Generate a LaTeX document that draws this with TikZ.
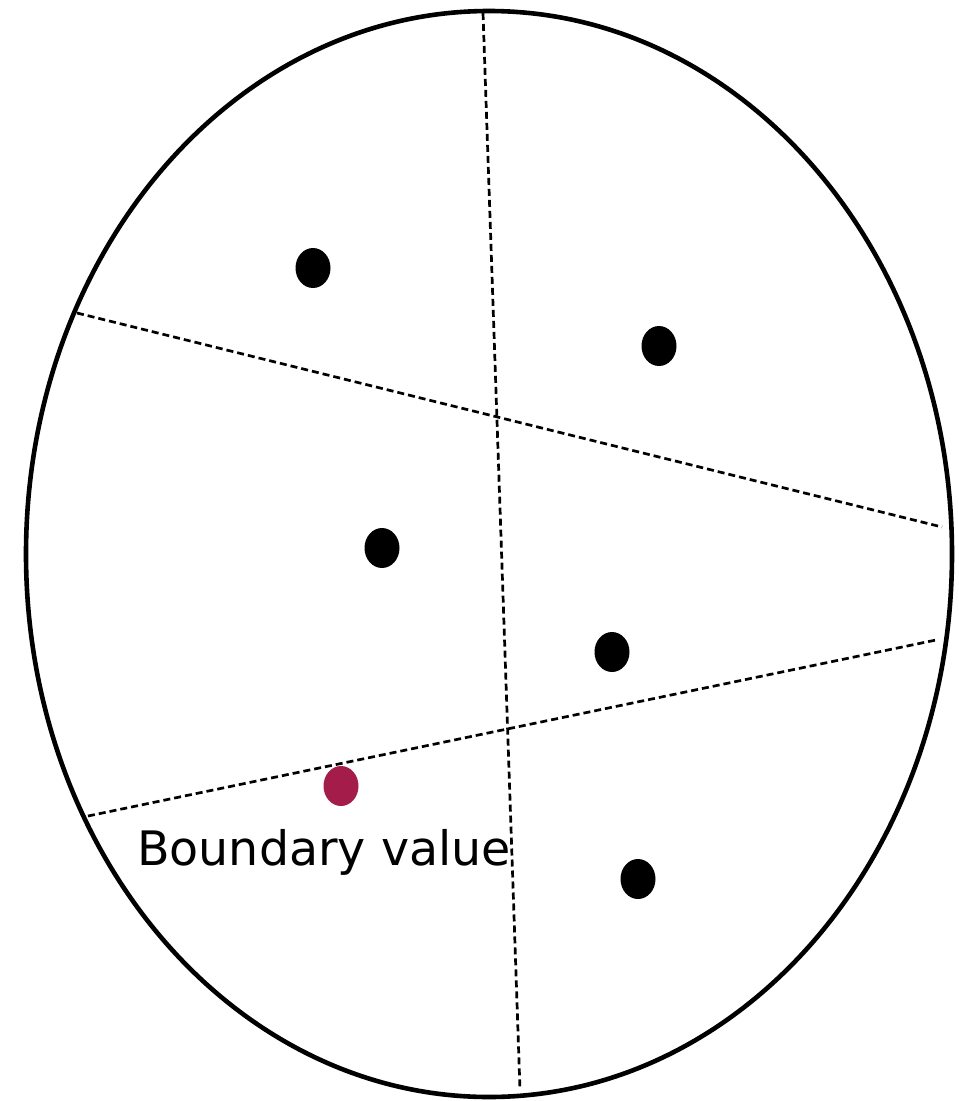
\documentclass[tikz,border=0pt]{standalone}
\usepackage{fontspec}
\setmainfont{DejaVu Sans}
\usetikzlibrary{positioning,calc,shapes.geometric}
\definecolor{BoundRed}{RGB}{164,29,74}
\tikzset{
	dot/.style={ellipse,draw=none,fill=black,minimum width=35pt,minimum height=40pt,inner sep=0pt},
	cut/.style={draw=black,line width=2.7pt,dash pattern=on 7pt off 4pt},
	rim/.style={draw=black,line width=4.6pt},
}
\begin{document}
\begin{tikzpicture}[x=1pt,y=-1pt]
			\useasboundingbox (0,0) rectangle (959,1101);
			\node[ellipse,rim,minimum width=926pt,minimum height=1086pt,inner sep=0pt] (rim) at (489,554) {};
			\coordinate (vt) at (483,13);
			\coordinate (vb) at (520,1090);
			\coordinate (ul) at (77,313);
			\coordinate (ur) at (942,527);
			\coordinate (ll) at (88,816);
			\coordinate (lr) at (936,640);
			\foreach \x/\y in {vt/vb,ul/ur,ll/lr}
			\draw[cut] (\x)--(\y);
			\foreach \n/\p in {p1/{313,268},p2/{659,346},p3/{382,548},p4/{612,652},p5/{638,879}}
			\node[dot] (\n) at (\p) {};
			\node[dot,fill=BoundRed] (bv) at (341,786) {};
			\node[font=\fontsize{47.5}{50}\selectfont,anchor=base west,inner sep=0pt] (bvlabel) at (137,865) {Boundary value};
		\end{tikzpicture}
\end{document}
